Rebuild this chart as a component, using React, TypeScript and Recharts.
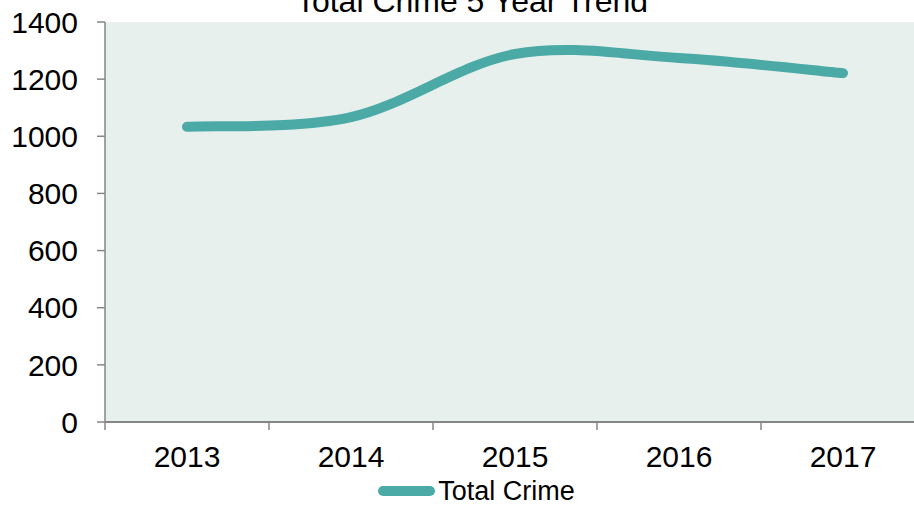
import React from 'react';
import { LineChart, Line, XAxis, YAxis, Legend, CartesianGrid } from 'recharts';

const years = ['2013', '2014', '2015', '2016', '2017'];
const totalCrime = [1033, 1067, 1288, 1274, 1221];
const yTicks = [0, 200, 400, 600, 800, 1000, 1200, 1400];
const bandEdges = [-0.5, 0.5, 1.5, 2.5, 3.5, 4.5];
const labelTicks = [0, 1, 2, 3, 4];

const data = years.map((y, i) => ({ idx: i, year: y, total: totalCrime[i] }));

const FONT = '"Liberation Sans", Arial, sans-serif';
const LINE_COLOR = '#4BAAA6';
const AXIS_COLOR = '#868686';

// Excel-like smoothing (Catmull-Rom style Bezier)
const excelCurve = (context: any) => {
  let pts: number[][] = [];
  return {
    areaStart() {},
    areaEnd() {},
    lineStart() {
      pts = [];
    },
    lineEnd() {
      if (!pts.length) return;
      context.moveTo(pts[0][0], pts[0][1]);
      for (let i = 0; i < pts.length - 1; i++) {
        const p0 = pts[i - 1] || pts[i];
        const p1 = pts[i];
        const p2 = pts[i + 1];
        const p3 = pts[i + 2] || pts[i + 1];
        const c1x = p1[0] + (p2[0] - p0[0]) / 6;
        const c1y = p1[1] + (p2[1] - p0[1]) / 6;
        const c2x = p2[0] - (p3[0] - p1[0]) / 6;
        const c2y = p2[1] - (p3[1] - p1[1]) / 6;
        context.bezierCurveTo(c1x, c1y, c2x, c2y, p2[0], p2[1]);
      }
    },
    point(x: number, y: number) {
      pts.push([+x, +y]);
    },
  };
};

const LegendContent = () => (
  <div
    style={{
      display: 'flex',
      justifyContent: 'center',
      alignItems: 'center',
      paddingLeft: 28,
      paddingTop: 12,
      fontFamily: FONT,
      fontSize: 27,
      lineHeight: '28px',
      color: '#000',
    }}
  >
    <div style={{ width: 57, height: 10, borderRadius: 5, background: LINE_COLOR, marginRight: 3 }} />
    <span>Total Crime</span>
  </div>
);

export default function App() {
  return (
    <div
      style={{
        position: 'absolute',
        left: 0,
        top: 0,
        width: 914,
        height: 505,
        overflow: 'hidden',
        background: '#fff',
      }}
    >
      <div
        style={{
          position: 'absolute',
          left: 0,
          top: -15,
          width: 944,
          textAlign: 'center',
          fontFamily: FONT,
          fontSize: 32,
          lineHeight: '32px',
          color: '#000',
          zIndex: 2,
        }}
      >
        Total Crime 5 Year Trend
      </div>
      <LineChart
        width={925}
        height={505}
        data={data}
        margin={{ top: 22, right: 0, bottom: 0, left: 0 }}
        style={{ fontFamily: FONT }}
      >
        <CartesianGrid
          xAxisId="a"
          horizontal={false}
          vertical={false}
          fill="#E8F0EE"
          stroke="none"
        />
        <XAxis
          xAxisId="a"
          dataKey="idx"
          type="number"
          domain={[-0.5, 4.5]}
          ticks={bandEdges}
          tickFormatter={() => ''}
          tickSize={8}
          height={1}
          stroke={AXIS_COLOR}
          tickLine={{ stroke: AXIS_COLOR, strokeWidth: 1.5 }}
          axisLine={{ stroke: AXIS_COLOR, strokeWidth: 2 }}
          interval={0}
          allowDataOverflow
        />
        <XAxis
          xAxisId="b"
          dataKey="idx"
          type="number"
          domain={[-0.5, 4.5]}
          ticks={labelTicks}
          tickFormatter={(v: number) => years[v]}
          axisLine={false}
          tickLine={false}
          tickSize={0}
          tickMargin={23}
          height={42}
          interval={0}
          tick={{ fill: '#000', fontSize: 30, fontFamily: FONT }}
          allowDataOverflow
        />
        <YAxis
          domain={[0, 1400]}
          ticks={yTicks}
          width={105}
          tickSize={8}
          tickMargin={19}
          stroke={AXIS_COLOR}
          axisLine={{ stroke: AXIS_COLOR, strokeWidth: 1.5 }}
          tickLine={{ stroke: AXIS_COLOR, strokeWidth: 1.5 }}
          tick={{ fill: '#000', fontSize: 30, fontFamily: FONT }}
          interval={0}
        />
        <Legend verticalAlign="bottom" height={40} content={<LegendContent />} />
        <Line
          xAxisId="a"
          dataKey="total"
          name="Total Crime"
          type={excelCurve as any}
          stroke={LINE_COLOR}
          strokeWidth={10}
          strokeLinecap="round"
          dot={false}
          activeDot={false}
          isAnimationActive={false}
        />
      </LineChart>
    </div>
  );
}
